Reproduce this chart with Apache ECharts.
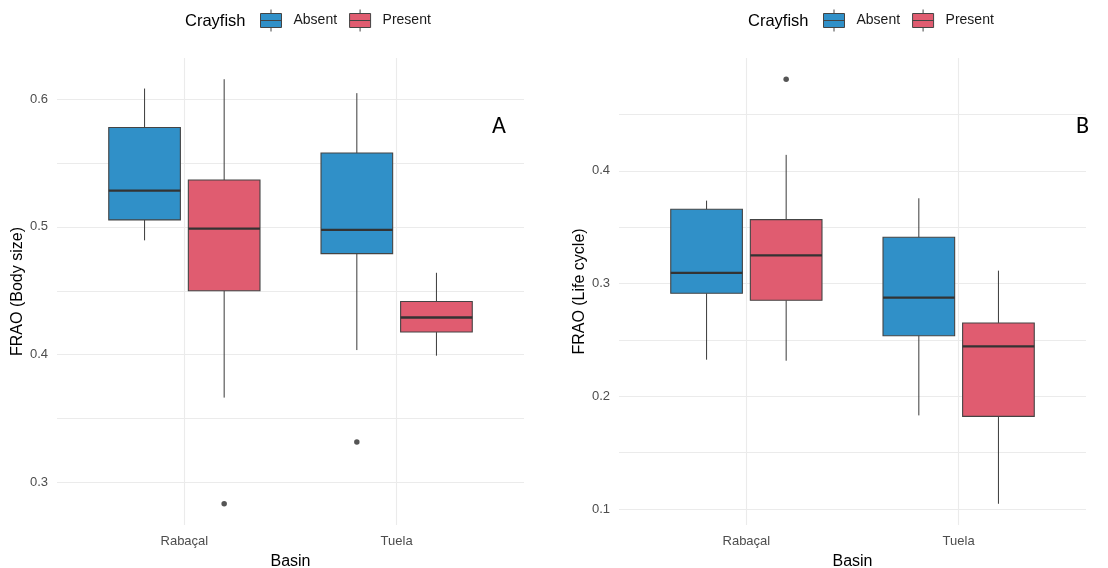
<!DOCTYPE html>
<html>
<head>
<meta charset="utf-8">
<script src="https://cdn.jsdelivr.net/npm/echarts@6/dist/echarts.min.js"></script>
<style>
  html, body { margin: 0; padding: 0; background: #ffffff; }
  #chart { width: 1108px; height: 568px; }
</style>
</head>
<body>
<div id="chart"></div>
<script>
// Basins on the x axis and crayfish groups in the legend
const basins = ['Rabaçal', 'Tuela'];
const groups = ['Absent', 'Present'];

// Box summaries per basin: [lower whisker, Q1, median, Q3, upper whisker]
const bodySizeAbsent  = [[0.4895, 0.5055, 0.5284, 0.5778, 0.6083], [0.4036, 0.4791, 0.4977, 0.5578, 0.6047]];
const bodySizePresent = [[0.3664, 0.4500, 0.4987, 0.5367, 0.6156], [0.3992, 0.4177, 0.4291, 0.4416, 0.4641]];
const lifeCycleAbsent  = [[0.2325, 0.2914, 0.3095, 0.3659, 0.3736], [0.1831, 0.2538, 0.2876, 0.3411, 0.3757]];
const lifeCyclePresent = [[0.2316, 0.2852, 0.3251, 0.3568, 0.4142], [0.1047, 0.1822, 0.2443, 0.2651, 0.3115]];

// Outlying points: [group, basin index, value]
const bodySizeOutliers  = [['Present', 0, 0.2833], ['Absent', 1, 0.3317]];
const lifeCycleOutliers = [['Present', 0, 0.4813]];

// Axis tick labels and horizontal grid lines
const bodySizeTicks  = [0.3, 0.4, 0.5, 0.6];
const bodySizeGrid   = [0.3, 0.35, 0.4, 0.45, 0.5, 0.55, 0.6];
const lifeCycleTicks = [0.1, 0.2, 0.3, 0.4];
const lifeCycleGrid  = [0.1, 0.15, 0.2, 0.25, 0.3, 0.35, 0.4, 0.45];

const COLORS = { Absent: '#3090C8', Present: '#E05C70' };
const DODGE = 0.1875;      // half of the dodge width (0.75 / 4)
const BOX_W = 0.3375;      // box width in category units
const FONT = 'Liberation Sans, Arial, sans-serif';
const TAG_FONT = 'Carlito, Lato, Liberation Sans, sans-serif';

// Value range with a 5% margin on each side
function padRange(boxes, outliers) {
  const vals = [];
  boxes.forEach(b => b.forEach(r => r.forEach(v => vals.push(v))));
  outliers.forEach(o => vals.push(o[2]));
  const lo = Math.min(...vals), hi = Math.max(...vals);
  const pad = (hi - lo) * 0.05;
  return [lo - pad, hi + pad];
}

// Box, whiskers and median for one dodged group
function makeRender(offset) {
  return function (params, api) {
    const cx = api.value(0) + offset;
    const pLow = api.coord([cx, api.value(1)]);
    const pQ1 = api.coord([cx, api.value(2)]);
    const pMed = api.coord([cx, api.value(3)]);
    const pQ3 = api.coord([cx, api.value(4)]);
    const pHigh = api.coord([cx, api.value(5)]);
    const left = api.coord([cx - BOX_W / 2, api.value(2)])[0];
    const right = api.coord([cx + BOX_W / 2, api.value(2)])[0];
    const wStyle = { stroke: '#3a3a3a', lineWidth: 1 };
    return {
      type: 'group',
      children: [
        { type: 'line', shape: { x1: pHigh[0], y1: pHigh[1], x2: pQ3[0], y2: pQ3[1] }, style: wStyle },
        { type: 'line', shape: { x1: pQ1[0], y1: pQ1[1], x2: pLow[0], y2: pLow[1] }, style: wStyle },
        { type: 'rect', shape: { x: left, y: pQ3[1], width: right - left, height: pQ1[1] - pQ3[1] },
          style: { fill: api.visual('color'), stroke: '#444444', lineWidth: 1.1 } },
        { type: 'line', shape: { x1: left, y1: pMed[1], x2: right, y2: pMed[1] },
          style: { stroke: '#333333', lineWidth: 2.3 } }
      ]
    };
  };
}

function boxSeries(name, rows, offset, gridIndex) {
  return {
    type: 'custom',
    name: name,
    xAxisIndex: gridIndex,
    yAxisIndex: gridIndex,
    itemStyle: { color: COLORS[name] },
    renderItem: makeRender(offset),
    encode: { x: 0, y: [1, 2, 3, 4, 5] },
    data: rows.map((r, i) => [i + 1].concat(r)),
    z: 2
  };
}

function outlierSeries(points, gridIndex) {
  return {
    type: 'scatter',
    name: 'outliers',
    xAxisIndex: gridIndex,
    yAxisIndex: gridIndex,
    symbolSize: 5.5,
    itemStyle: { color: '#2b2b2b' },
    data: points.map(p => [p[1] + 1 + (p[0] === 'Absent' ? -DODGE : DODGE), p[2]]),
    z: 3
  };
}

const gridLine = { show: true, lineStyle: { color: '#EBEBEB', width: 1.1 } };

function xAxis(gridIndex) {
  return {
    type: 'value',
    gridIndex: gridIndex,
    min: 0.4,
    max: 2.6,
    name: 'Basin',
    nameLocation: 'middle',
    nameGap: 29,
    nameTextStyle: { fontFamily: FONT, fontSize: 16, color: '#000000' },
    axisLine: { show: false },
    axisTick: { show: false, customValues: [1, 2] },
    splitLine: gridLine,
    axisLabel: {
      customValues: [1, 2],
      formatter: v => basins[Math.round(v) - 1] || '',
      fontFamily: FONT, fontSize: 13, color: '#4D4D4D', margin: 10
    }
  };
}

function yAxis(gridIndex, name, range, ticks, lines) {
  return {
    type: 'value',
    gridIndex: gridIndex,
    min: range[0],
    max: range[1],
    name: name,
    nameLocation: 'middle',
    nameGap: 26,
    nameTextStyle: { fontFamily: FONT, fontSize: 16, color: '#000000' },
    axisLine: { show: false },
    axisTick: { show: false, customValues: lines },
    splitLine: gridLine,
    axisLabel: {
      customValues: ticks,
      formatter: v => String(Math.round(v * 10) / 10),
      fontFamily: FONT, fontSize: 13, color: '#4D4D4D', margin: 9,
      padding: [4, 0, 0, 0]
    }
  };
}

const bodyRange = padRange([bodySizeAbsent, bodySizePresent], bodySizeOutliers);
const lifeRange = padRange([lifeCycleAbsent, lifeCyclePresent], lifeCycleOutliers);

// Legend key: a small box with median line and whisker stubs
const legendIcon = 'path://M0,4 L21,4 L21,18 L0,18 Z M0,11 L21,11 M10.5,0 L10.5,4 M10.5,18 L10.5,22';

function legend(left) {
  return {
    left: left,
    top: 9,
    padding: 0,
    itemWidth: 21,
    itemHeight: 22,
    itemGap: 12,
    icon: legendIcon,
    data: groups,
    itemStyle: { borderColor: '#444444', borderWidth: 1 },
    textStyle: { fontFamily: FONT, fontSize: 14, color: '#1a1a1a', padding: [5, 0, 0, 7] },
    selectedMode: false
  };
}

function label(text, left, top, size, family) {
  return {
    text: text, left: left, top: top, padding: 0,
    textStyle: { fontFamily: family, fontSize: size, fontWeight: 'normal', color: '#000000' }
  };
}

const chart = echarts.init(document.getElementById('chart'), null, { renderer: 'canvas' });
chart.setOption({
  animation: false,
  backgroundColor: '#ffffff',
  title: [
    label('Crayfish', 185, 13, 16.5, FONT),
    label('Crayfish', 748, 13, 16.5, FONT),
    label('A', 492, 115, 24, TAG_FONT),
    label('B', 1076, 115, 24, TAG_FONT)
  ],
  legend: [legend(260), legend(823)],
  grid: [
    { left: 57, top: 58, width: 467, height: 467, outerBoundsMode: 'none', containLabel: false },
    { left: 619, top: 58, width: 467, height: 467, outerBoundsMode: 'none', containLabel: false }
  ],
  xAxis: [xAxis(0), xAxis(1)],
  yAxis: [
    yAxis(0, 'FRAO (Body size)', bodyRange, bodySizeTicks, bodySizeGrid),
    yAxis(1, 'FRAO (Life cycle)', lifeRange, lifeCycleTicks, lifeCycleGrid)
  ],
  series: [
    boxSeries('Absent', bodySizeAbsent, -DODGE, 0),
    boxSeries('Present', bodySizePresent, DODGE, 0),
    outlierSeries(bodySizeOutliers, 0),
    boxSeries('Absent', lifeCycleAbsent, -DODGE, 1),
    boxSeries('Present', lifeCyclePresent, DODGE, 1),
    outlierSeries(lifeCycleOutliers, 1)
  ]
});
</script>
</body>
</html>
